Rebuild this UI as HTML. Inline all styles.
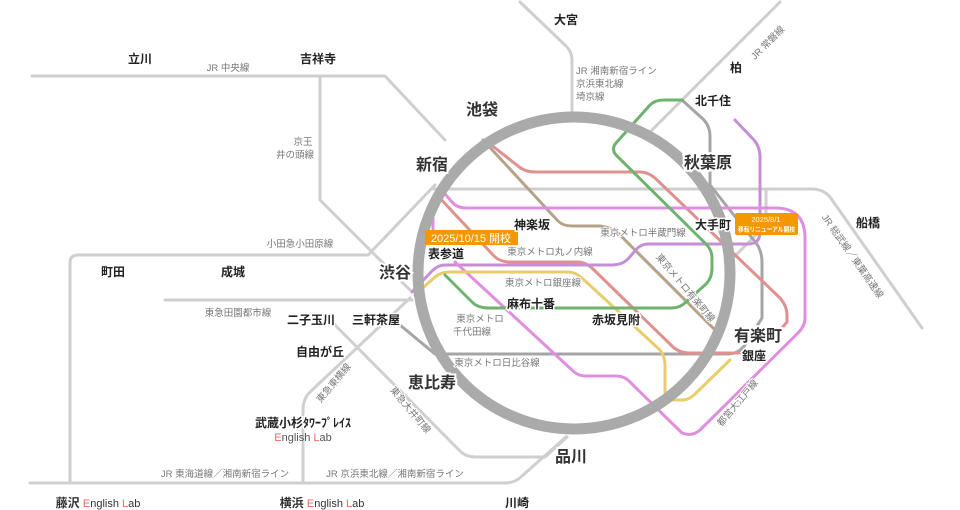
<!DOCTYPE html>
<html><head><meta charset="utf-8"><style>
html,body{margin:0;padding:0;background:#fff;}
svg{display:block;}
text{font-family:"Liberation Sans","Noto Sans CJK JP",sans-serif;}
.s{font-size:12px;font-weight:bold;fill:#222;stroke:#fff;stroke-width:3px;paint-order:stroke;}
.b{font-size:16px;font-weight:bold;fill:#333;stroke:#fff;stroke-width:4px;paint-order:stroke;}
.l{font-size:9.5px;fill:#777;stroke:#fff;stroke-width:2px;paint-order:stroke;}
.r{fill:#f0696a;}
</style></head><body>
<svg width="960" height="510" viewBox="0 0 960 510" xmlns="http://www.w3.org/2000/svg">
<g fill="none" stroke-linejoin="round" stroke-linecap="round">
<g stroke="#cfcfcf" stroke-width="3">
<path d="M32,76 H385 L445,140"/>
<path d="M320,76 V200 L410,290"/>
<path d="M70,483 V263 Q70,255 78,255 H368 L435,185"/>
<path d="M165,300 H412"/>
<path d="M410,298 L310,392 Q303,399 303,410 V483"/>
<path d="M335,325 L460,451 Q466,457 475,457 H545 L567,437"/>
<path d="M30,483 H505 Q515,483 522,476 L566,437"/>
<path d="M520,2 L566,46 Q572,52 572,60 V117"/>
<path d="M780,2 L650,132"/>
<path d="M433,189 H812 Q823,189 830,197 L922,328"/>
<path d="M766,190 V225 L733,258"/>
</g>
<path stroke="#a5a5a5" stroke-width="3" d="M682,100 L704,120 Q710,127 710,136 V185 L752,238 Q762,248 762,262 V318 L745,345 Q738,354 728,354 H435 L400,325"/>
<path stroke="#e0918f" stroke-width="3" d="M485,140 L518,166 Q525,172 535,172 H640 Q648,172 655,178 L780,298 Q787,306 787,315 V322 L772,340"/>
<path stroke="#e0918f" stroke-width="3" d="M437,195 L494,256 Q500,262 510,262 H578 Q585,262 592,268 L672,346 Q679,353 690,353 H742"/>
<path stroke="#b5a388" stroke-width="3" d="M483,140 L558,221 Q563,226 572,226 H600 Q610,227 618,233 L715,330"/>
<path stroke="#c48fd6" stroke-width="3" d="M735,120 L754,140 Q760,147 760,157 V232 Q760,244 748,244 H648 Q640,244 634,252 L628,259 Q622,265 612,265 H445 Q438,265 432,271 L412,292"/>
<path stroke="#e08fe0" stroke-width="3" d="M440,188 L452,202 Q457,208 466,208 H775 Q805,208 805,238 V318 Q805,326 798,333 L700,430 Q692,437 682,433 L631,383 Q625,376 616,376 H585 Q578,376 572,370 L455,262"/>
<path stroke="#e08fe0" stroke-width="3" d="M440,188 L433,198 V235"/>
<path stroke="#e8cd6a" stroke-width="3" d="M415,295 L435,277 Q441,272 450,272 H568 Q575,272 582,278 L660,350 Q665,356 665,366 V392 Q665,400 675,400 H683 Q688,400 694,395 L730,360"/>
<path stroke="#6db36d" stroke-width="3" d="M445,275 L472,302 Q478,308 488,308 H672 Q680,308 686,302 L706,284 Q712,278 712,268 V258 Q712,250 706,244 L616,155 Q611,149 616,143 L650,105 Q655,100 664,100 H682"/>
<circle cx="574" cy="273" r="156" stroke="#aaaaaa" stroke-width="11"/>
</g>
<rect x="425" y="230" width="93" height="15" fill="#f39800"/>
<text x="471" y="242" font-size="11" fill="#fff" text-anchor="middle">2025/10/15 開校</text>
<rect x="735" y="213" width="63" height="22" rx="2" fill="#f39800"/>
<text x="766" y="222" font-size="7.5" fill="#fff" text-anchor="middle">2025/8/1</text>
<text x="738" y="231.5" font-size="6.5" fill="#fff" textLength="57" lengthAdjust="spacingAndGlyphs" font-weight="bold">移転リニューアル開校</text>
<g text-anchor="middle">
<text class="s" x="566" y="24">大宮</text>
<text class="s" x="140" y="63">立川</text>
<text class="s" x="318" y="63">吉祥寺</text>
<text class="s" x="736" y="72">柏</text>
<text class="s" x="713" y="105">北千住</text>
<text class="b" x="482" y="115">池袋</text>
<text class="b" x="432" y="170">新宿</text>
<text class="b" x="708" y="168">秋葉原</text>
<text class="s" x="868" y="227">船橋</text>
<text class="s" x="713" y="229">大手町</text>
<text class="s" x="532" y="229">神楽坂</text>
<text class="s" x="446" y="258">表参道</text>
<text class="s" x="113" y="276">町田</text>
<text class="s" x="233" y="276">成城</text>
<text class="b" x="395" y="278">渋谷</text>
<text class="s" x="531" y="308">麻布十番</text>
<text class="s" x="311" y="324">二子玉川</text>
<text class="s" x="376" y="324">三軒茶屋</text>
<text class="s" x="616" y="324">赤坂見附</text>
<text class="b" x="758" y="341">有楽町</text>
<text class="s" x="320" y="356">自由が丘</text>
<text class="s" x="754" y="360">銀座</text>
<text class="b" x="432" y="388">恵比寿</text>
<text class="s" x="303" y="427">武蔵小杉ﾀﾜｰﾌﾟﾚｲｽ</text>
<text x="303" y="441" font-size="11" fill="#555"><tspan class="r">E</tspan>nglish <tspan class="r">L</tspan>ab</text>
<text class="b" x="571" y="462">品川</text>
<text class="s" x="517" y="507">川崎</text>
<text x="98" y="507" font-size="11" fill="#333"><tspan font-weight="bold" font-size="12">藤沢 </tspan><tspan class="r">E</tspan>nglish <tspan class="r">L</tspan>ab</text>
<text x="322" y="507" font-size="11" fill="#333"><tspan font-weight="bold" font-size="12">横浜 </tspan><tspan class="r">E</tspan>nglish <tspan class="r">L</tspan>ab</text>
<text class="l" x="228" y="71">JR 中央線</text>
<text class="l" x="303" y="145">京王</text>
<text class="l" x="295" y="158">井の頭線</text>
<text class="l" x="643" y="236">東京メトロ半蔵門線</text>
<text class="l" x="300" y="247">小田急小田原線</text>
<text class="l" x="550" y="255">東京メトロ丸ノ内線</text>
<text class="l" x="543" y="286">東京メトロ銀座線</text>
<text class="l" x="238" y="316">東急田園都市線</text>
<text class="l" x="480" y="322">東京メトロ</text>
<text class="l" x="472" y="335">千代田線</text>
<text class="l" x="497" y="366">東京メトロ日比谷線</text>
<text class="l" x="225" y="477">JR 東海道線／湘南新宿ライン</text>
<text class="l" x="395" y="477">JR 京浜東北線／湘南新宿ライン</text>
<text class="l" transform="translate(770,45) rotate(-45)">JR 常磐線</text>
<text class="l" transform="translate(850,258) rotate(55)">JR 総武線／東葉高速線</text>
<text class="l" transform="translate(683,290) rotate(50)">東京メトロ有楽町線</text>
<text class="l" transform="translate(336,385) rotate(-50)">東急東横線</text>
<text class="l" transform="translate(408,412) rotate(50)">東急大井町線</text>
<text class="l" transform="translate(740,405) rotate(-50)">都営大江戸線</text>
</g>
<text class="l" x="576" y="74">JR 湘南新宿ライン</text>
<text class="l" x="576" y="87">京浜東北線</text>
<text class="l" x="576" y="100">埼京線</text>
</svg>
</body></html>
